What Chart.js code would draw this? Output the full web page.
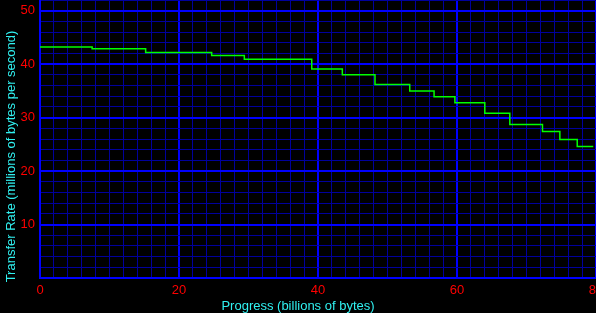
<!DOCTYPE html>
<html>
<head>
<meta charset="utf-8">
<script src="https://cdn.jsdelivr.net/npm/chart.js@4/dist/chart.umd.min.js"></script>
<style>
  html, body { margin: 0; padding: 0; background: #000; }
  #wrap { width: 596px; height: 313px; }
</style>
</head>
<body>
<div id="wrap"><canvas id="myChart" width="596" height="313"></canvas></div>
<script>
// progress (billions of bytes) where each step of the transfer rate begins
var progress = [0, 7.5, 15.2, 24.7, 29.4, 39.1, 43.5, 48.2, 53.2, 56.7, 59.7, 64.0, 67.6, 72.3, 74.8, 77.3, 79.6];
// transfer rate (millions of bytes per second) at each step
var rate = [43.2, 42.9, 42.2, 41.6, 40.9, 39.1, 38.0, 36.2, 35.0, 33.9, 32.8, 30.8, 28.7, 27.4, 25.9, 24.6, 24.6];

var yLabels = [10, 20, 30, 40, 50];
var xLabels = [0, 20, 40, 60, 80];

var majorBlue = '#0000ff';
var minorBlue = '#00009c';
var titleColor = '#30f0f0';

var points = progress.map(function (p, i) { return { x: p, y: rate[i] }; });

// both axis titles are centred on the whole canvas, not on the plot area
var axisTitles = {
  id: 'axisTitles',
  afterDraw: function (chart) {
    var ctx = chart.ctx;
    ctx.save();
    ctx.fillStyle = titleColor;
    ctx.font = '13px "Liberation Sans"';
    ctx.textAlign = 'center';
    ctx.textBaseline = 'alphabetic';
    ctx.fillText('Progress (billions of bytes)', chart.width / 2, 310);
    ctx.translate(15, chart.height / 2);
    ctx.rotate(-Math.PI / 2);
    ctx.fillText('Transfer Rate (millions of bytes per second)', 0, 0);
    ctx.restore();
  }
};

var ctx = document.getElementById('myChart');
var myChart = new Chart(ctx, {
  type: 'line',
  data: {
    datasets: [{
      data: points,
      borderColor: '#00ff00',
      borderWidth: 1.5,
      pointRadius: 0,
      stepped: true,
      fill: false
    }]
  },
  plugins: [axisTitles],
  options: {
    responsive: false,
    animation: false,
    events: [],
    layout: { padding: 0 },
    plugins: { legend: { display: false }, tooltip: { enabled: false } },
    scales: {
      x: {
        type: 'linear',
        min: 0,
        max: 80,
        ticks: {
          stepSize: 2,
          autoSkip: false,
          maxRotation: 0,
          padding: 5,
          color: '#ff0000',
          font: { family: 'Liberation Sans', size: 13 },
          callback: function (v) { return xLabels.indexOf(v) >= 0 ? String(v) : ''; }
        },
        grid: {
          drawTicks: false,
          color: function (c) { return c.tick && c.tick.value % 20 === 0 ? majorBlue : minorBlue; },
          lineWidth: function (c) { return c.tick && c.tick.value % 20 === 0 ? 2 : 1; }
        },
        border: { color: majorBlue, width: 2 },
        afterFit: function (s) { s.height = 35; s.paddingLeft = 0; s.paddingRight = 0; }
      },
      y: {
        min: 0,
        max: 52,
        ticks: {
          stepSize: 2,
          autoSkip: false,
          padding: 5,
          color: '#ff0000',
          font: { family: 'Liberation Sans', size: 13 },
          callback: function (v) { return yLabels.indexOf(v) >= 0 ? String(v) : ''; }
        },
        grid: {
          drawTicks: false,
          color: function (c) { return c.tick && c.tick.value % 10 === 0 ? majorBlue : minorBlue; },
          lineWidth: function (c) { return c.tick && c.tick.value % 10 === 0 ? 2 : 1; }
        },
        border: { color: majorBlue, width: 2 },
        afterFit: function (s) { s.width = 40; s.paddingTop = 0; s.paddingBottom = 0; }
      }
    }
  }
});
</script>
</body>
</html>
